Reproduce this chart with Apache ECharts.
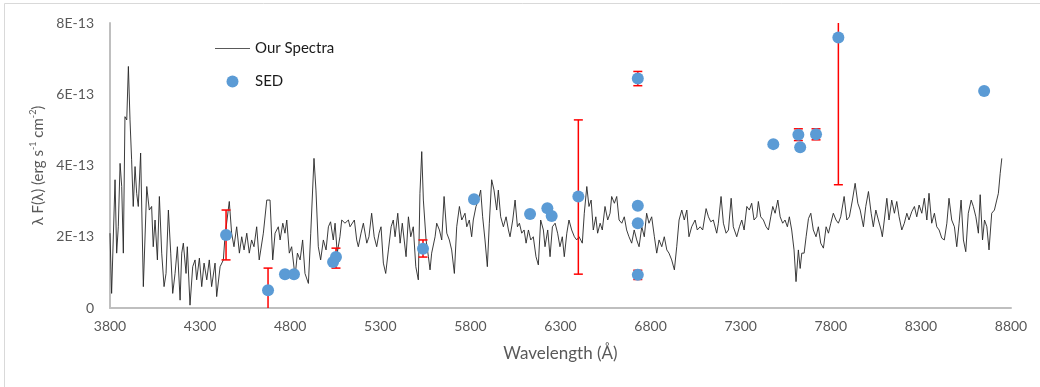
<!DOCTYPE html>
<html>
<head>
<meta charset="utf-8">
<script src="https://cdn.jsdelivr.net/npm/echarts@6/dist/echarts.min.js"></script>
<style>
html,body{margin:0;padding:0;background:#fff;}
#chart{width:1040px;height:387px;}
</style>
</head>
<body>
<div id="chart"></div>
<script>
// Flux values are in units of 1E-13 erg s-1 cm-2
const specWave = [3800,3809,3828,3837,3846,3856,3865,3874,3883,3893,3902,3911,3920,3929,3939,3948,3957,3970,3985,4004,4018,4031,4040,4050,4063,4074,4087,4100,4111,4124,4137,4148,4161,4174,4189,4198,4207,4222,4229,4244,4259,4272,4281,4296,4309,4322,4337,4351,4364,4383,4392,4411,4429,4438,4462,4475,4488,4503,4518,4531,4544,4559,4573,4586,4599,4614,4628,4651,4670,4688,4703,4716,4734,4744,4759,4771,4781,4795,4808,4827,4840,4855,4869,4882,4901,4914,4932,4943,4956,4969,4984,4999,5012,5024,5039,5049,5061,5076,5086,5104,5123,5132,5156,5169,5178,5193,5206,5225,5237,5252,5266,5280,5293,5304,5317,5330,5345,5360,5372,5382,5397,5410,5422,5443,5456,5469,5483,5497,5511,5520,5530,5539,5554,5567,5576,5585,5604,5613,5628,5641,5654,5669,5683,5696,5711,5724,5739,5752,5770,5780,5794,5807,5816,5831,5844,5857,5868,5881,5894,5905,5918,5931,5946,5955,5968,5983,5998,6011,6020,6035,6048,6061,6072,6085,6098,6109,6122,6135,6149,6164,6177,6190,6205,6214,6229,6242,6255,6270,6284,6297,6310,6321,6335,6347,6362,6377,6390,6403,6421,6432,6446,6458,6470,6482,6496,6506,6520,6532,6547,6562,6575,6584,6599,6612,6625,6640,6654,6667,6680,6695,6709,6723,6736,6751,6765,6778,6791,6806,6821,6834,6847,6862,6876,6890,6902,6917,6932,6945,6958,6973,6987,7001,7013,7028,7047,7059,7075,7089,7108,7121,7134,7148,7167,7176,7191,7204,7219,7232,7247,7259,7278,7293,7306,7319,7334,7348,7361,7374,7389,7398,7411,7426,7441,7454,7467,7478,7491,7506,7519,7533,7546,7559,7570,7583,7596,7607,7620,7630,7639,7652,7663,7676,7689,7703,7718,7731,7744,7759,7774,7787,7800,7814,7829,7842,7855,7874,7889,7903,7920,7935,7950,7963,7981,7994,8009,8024,8036,8050,8064,8079,8086,8097,8111,8123,8138,8153,8166,8179,8194,8208,8222,8234,8249,8264,8277,8290,8305,8319,8333,8345,8360,8375,8388,8401,8416,8430,8444,8456,8471,8486,8499,8512,8523,8536,8549,8563,8579,8591,8605,8619,8629,8642,8653,8666,8678,8693,8708,8721,8730,8740,8749];
const specFlux = [2.10,0.41,3.60,1.54,2.28,4.06,3.41,1.54,5.37,5.28,6.78,5.28,4.16,2.85,3.97,3.22,2.85,4.35,0.60,3.41,2.75,2.85,1.72,2.47,1.35,3.13,1.54,0.60,0.97,2.75,1.54,0.41,0.97,1.72,0.22,1.54,1.82,0.97,1.72,0.08,1.16,1.35,0.79,1.40,0.60,1.26,0.79,1.35,0.60,1.26,0.32,1.16,1.35,2.00,2.99,2.10,1.72,2.28,1.54,2.00,1.63,2.10,1.54,1.91,1.72,2.28,1.35,2.10,3.03,3.03,1.35,2.10,2.28,1.91,2.38,2.10,2.47,1.54,1.72,0.88,1.54,1.35,1.91,0.97,0.69,2.10,4.20,3.31,1.72,1.35,1.91,1.63,2.28,2.42,1.91,2.38,1.54,2.00,2.47,2.38,2.47,2.28,2.47,1.91,1.72,2.10,2.38,1.82,2.00,2.66,2.00,1.72,2.10,2.28,1.26,0.97,1.63,2.28,2.47,2.00,2.66,1.82,2.38,1.44,2.56,2.00,2.28,1.16,0.79,3.22,4.39,3.03,1.91,1.44,1.07,1.54,2.00,2.38,2.19,1.91,3.13,2.10,1.91,1.63,0.97,2.28,2.85,2.47,2.66,2.28,2.47,2.00,2.47,2.85,3.03,3.31,2.56,1.91,1.16,2.38,3.60,3.31,2.75,3.31,2.56,2.28,2.56,2.19,2.00,2.47,3.03,2.28,2.38,2.10,2.19,1.82,2.19,1.91,2.00,1.44,1.21,2.47,2.19,1.72,2.19,1.44,2.28,2.38,2.10,1.72,2.00,1.44,2.10,2.47,2.19,2.00,1.91,2.00,1.82,2.66,3.41,2.85,3.03,2.19,2.56,2.10,2.38,2.19,2.85,2.47,2.66,3.13,2.94,3.13,2.47,2.38,2.56,2.19,2.00,1.82,2.19,1.91,1.72,2.28,2.00,2.66,2.38,2.56,2.00,1.54,1.91,1.72,2.00,1.63,1.54,1.35,1.07,1.72,2.47,2.75,2.47,2.75,2.00,2.28,2.47,2.19,2.28,2.19,2.79,2.56,2.42,2.47,2.10,2.38,3.13,2.38,2.10,2.19,3.08,2.28,2.00,2.28,2.47,2.19,2.85,2.75,2.94,2.47,2.56,2.99,2.56,2.47,2.28,2.19,2.56,2.85,2.66,3.03,2.56,2.38,2.47,2.28,2.56,2.19,1.63,0.74,1.63,1.11,1.54,1.54,2.00,2.51,2.66,2.19,2.00,2.28,1.82,1.68,2.28,2.10,2.38,2.66,2.47,2.38,2.56,3.13,2.47,2.56,3.03,3.50,2.94,2.75,2.28,2.85,3.27,2.66,2.28,2.75,2.47,2.19,2.00,2.47,3.08,2.47,3.03,2.66,2.99,2.56,2.19,2.38,2.66,2.47,2.70,2.85,2.56,2.89,2.66,3.08,2.47,3.22,2.38,2.66,2.28,2.19,1.96,1.91,2.38,3.08,2.47,2.28,1.72,2.38,3.03,1.91,1.58,2.66,3.03,2.85,2.56,2.10,3.18,1.91,2.47,2.28,1.63,2.66,2.75,3.03,3.22,3.78,4.20];

const sedWave = [4444,4677,4771,4821,5038,5054,5537,5820,6131,6227,6251,6399,6729,6729,6729,6729,7481,7620,7630,7718,7842,8651,8830];
const sedFlux = [2.05,0.50,0.95,0.95,1.29,1.43,1.66,3.05,2.64,2.80,2.58,3.13,6.44,2.87,2.38,0.93,4.60,4.86,4.51,4.88,7.59,6.09,5.91];

const errWave = [4444,4677,5054,5537,6399,6729,6729,7620,7718,7842,8830];
const errLow  = [1.35,-0.20,1.12,1.43,0.95,6.24,0.80,4.70,4.72,3.46,5.79];
const errHigh = [2.75,1.12,1.68,1.91,5.28,6.64,1.06,5.03,5.03,8.30,6.02];

const xTicks = [3800,4300,4800,5300,5800,6300,6800,7300,7800,8300,8800];
const yTicks = [0,2,4,6,8];
const yTickLabels = ['0','2E-13','4E-13','6E-13','8E-13'];

const FONT = 'Lato, "Open Sans", sans-serif';
const chart = echarts.init(document.getElementById('chart'), null, {renderer:'canvas'});

const specData = specWave.map((w,i)=>[w, specFlux[i]]);
const sedData = sedWave.map((w,i)=>[w, sedFlux[i]]);
const errData = errWave.map((w,i)=>[w, errLow[i], errHigh[i]]);

chart.setOption({
  animation:false,
  backgroundColor:'#fff',
  graphic:[{
    type:'polyline', silent:true, z:-1,
    shape:{points:[[4.5,387],[4.5,3.5],[1040,3.5]]},
    style:{stroke:'#d9d9d9', lineWidth:1, fill:null}
  }],
  grid:{left:110, right:29, top:23, bottom:79, containLabel:false},
  legend:{
    data:[
      {name:'Our Spectra', icon:'path://M0,0L35,0L35,1L0,1Z', itemStyle:{color:'#595959', borderWidth:0}},
      {name:'SED', icon:'circle'}
    ],
    orient:'vertical', left:210, top:36,
    itemWidth:35, itemHeight:12, itemGap:18,
    textStyle:{fontFamily:FONT, fontSize:15, color:'#1a1a1a'},
    selectedMode:false
  },
  xAxis:{
    type:'value', min:3800, max:8800,
    name:'Wavelength (Å)', nameLocation:'middle', nameGap:37,
    nameTextStyle:{fontFamily:FONT, fontSize:17, color:'#595959'},
    axisLine:{show:true, lineStyle:{color:'#bfbfbf', width:2}},
    axisTick:{show:false},
    splitLine:{show:false},
    axisLabel:{customValues:xTicks, fontFamily:FONT, fontSize:14, color:'#595959', margin:11,
      formatter:(v)=>String(v)}
  },
  yAxis:{
    type:'value', min:0, max:8, interval:2,
    name:'{t|λ F(λ) (erg s}{s|-1}{t| cm}{s|-2}{t|)}',
    nameLocation:'middle', nameGap:62, nameRotate:90,
    nameTextStyle:{
      fontFamily:FONT, color:'#595959',
      rich:{
        t:{fontFamily:FONT, fontSize:15, color:'#595959', lineHeight:17, verticalAlign:'bottom'},
        s:{fontFamily:FONT, fontSize:9, color:'#595959', lineHeight:17, verticalAlign:'top', padding:[0,0,8,0]}
      }
    },
    axisLine:{show:true, lineStyle:{color:'#bfbfbf', width:2}},
    axisTick:{show:false},
    splitLine:{show:false},
    axisLabel:{fontFamily:FONT, fontSize:14, color:'#595959', margin:16,
      formatter:(v)=>{const i=yTicks.indexOf(v); return i>=0?yTickLabels[i]:'';}}
  },
  series:[
    {
      name:'Our Spectra', type:'line', data:specData,
      symbol:'none', smooth:false, z:2,
      lineStyle:{color:'#262626', width:0.9},
      itemStyle:{color:'#262626'}
    },
    {
      name:'errors', type:'custom', data:errData, clip:true, z:3,
      renderItem:(params, api)=>{
        const x = api.value(0);
        const lo = api.coord([x, api.value(1)]);
        const hi = api.coord([x, api.value(2)]);
        const hw = 4.5;
        const st = {stroke:'#ff0000', lineWidth:1.5};
        return {type:'group', children:[
          {type:'line', shape:{x1:lo[0],y1:lo[1],x2:hi[0],y2:hi[1]}, style:st},
          {type:'line', shape:{x1:lo[0]-hw,y1:lo[1],x2:lo[0]+hw,y2:lo[1]}, style:st},
          {type:'line', shape:{x1:hi[0]-hw,y1:hi[1],x2:hi[0]+hw,y2:hi[1]}, style:st}
        ]};
      }
    },
    {
      name:'SED', type:'scatter', data:sedData, clip:true, z:4,
      symbol:'circle', symbolSize:12,
      itemStyle:{color:'#5b9bd5', opacity:1}
    }
  ]
});
</script>
</body>
</html>
